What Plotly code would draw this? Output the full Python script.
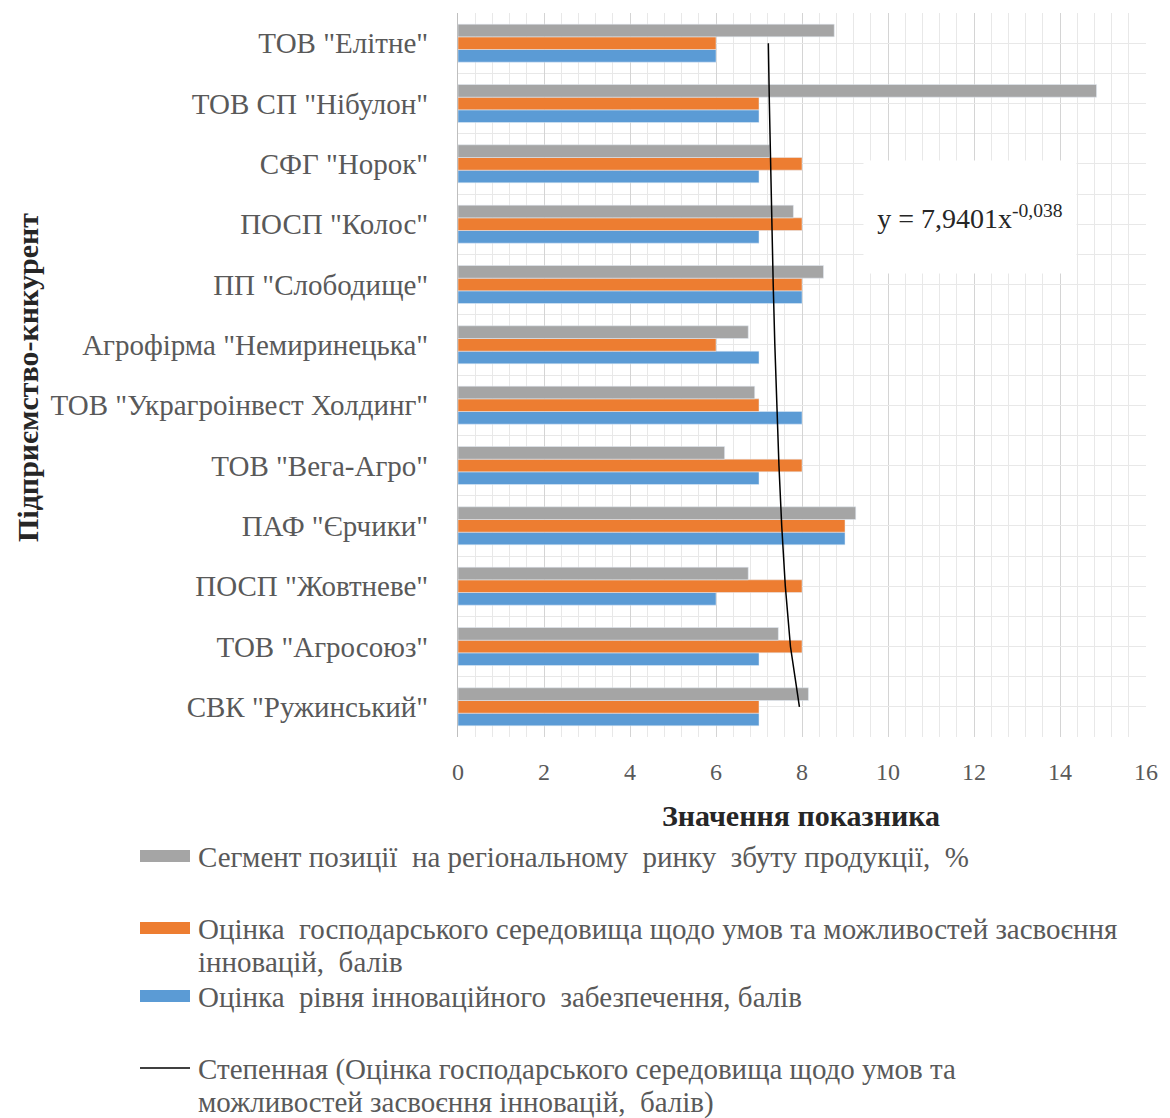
import numpy as np
import plotly.graph_objects as go

# ---- data (bottom -> top, as in the source chart) ----
categories = [
    'СВК "Ружинський"',
    'ТОВ "Агросоюз"',
    'ПОСП "Жовтневе"',
    'ПАФ "Єрчики"',
    'ТОВ "Вега-Агро"',
    'ТОВ "Украгроінвест Холдинг"',
    'Агрофірма "Немиринецька"',
    'ПП "Слободище"',
    'ПОСП "Колос"',
    'СФГ "Норок"',
    'ТОВ СП "Нібулон"',
    'ТОВ "Елітне"',
]
segment_share = [8.15, 7.45, 6.75, 9.25, 6.2, 6.9, 6.75, 8.5, 7.8, 7.25, 14.85, 8.75]
environment_score = [7, 8, 8, 9, 8, 7, 6, 8, 8, 8, 7, 6]
innovation_score = [7, 7, 6, 9, 7, 8, 7, 8, 7, 7, 7, 6]
x_ticks = [0, 2, 4, 6, 8, 10, 12, 14, 16]

name_gray = ["Сегмент позиції  на регіональному  ринку  збуту продукції,  %"]
name_orange = ["Оцінка  господарського середовища щодо умов та можливостей засвоєння",
               "інновацій,  балів"]
name_blue = ["Оцінка  рівня інноваційного  забезпечення, балів"]
name_trend = ["Степенная (Оцінка господарського середовища щодо умов та",
              "можливостей засвоєння інновацій,  балів)"]
equation_text = "y = 7,9401x<sup>-0,038</sup>"
x_title = "Значення показника"
y_title = "Підприємство-кнкурент"

# power trend fitted (as the spreadsheet does) to the orange series
idx = np.arange(1, len(categories) + 1)
b, ln_a = np.polyfit(np.log(idx), np.log(environment_score), 1)
trend = np.exp(ln_a) * idx ** b

ypos = list(range(len(categories)))

C_GRAY = "#A5A5A5"
C_ORANGE = "#ED7D31"
C_BLUE = "#5B9BD5"
TXT = "#595959"
SERIF = "Liberation Serif, Times New Roman, serif"

OFF = 8  # page body margin
W, H = 1170 - OFF, 1118 - OFF
L, R, T, B = 458 - OFF, 1146 - OFF, 13 - OFF, 737 - OFF


def px(xp):
    return (xp - OFF - L) / (R - L)


def py(yp):
    return (B - (yp - OFF)) / (B - T)


fig = go.Figure()
fig.add_trace(go.Bar(y=ypos, x=innovation_score, orientation="h", marker_color=C_BLUE,
                     name=name_blue[0], showlegend=False))
fig.add_trace(go.Bar(y=ypos, x=environment_score, orientation="h", marker_color=C_ORANGE,
                     name=" ".join(name_orange), showlegend=False))
fig.add_trace(go.Bar(y=ypos, x=segment_share, orientation="h", marker_color=C_GRAY,
                     name=name_gray[0], showlegend=False))
fig.add_trace(go.Scatter(y=ypos, x=trend, mode="lines", line=dict(color="black", width=1.5),
                         name=" ".join(name_trend), showlegend=False))

fig.update_layout(
    width=W, height=H,
    margin=dict(l=L, r=W - R, t=T, b=H - B, autoexpand=False),
    paper_bgcolor="white", plot_bgcolor="white",
    barmode="group", bargap=0.37, bargroupgap=0,
    font=dict(family=SERIF, color=TXT),
    showlegend=False,
)
fig.update_xaxes(
    range=[0, 16], tickvals=x_ticks, ticktext=[str(v) for v in x_ticks],
    showgrid=True, gridcolor="#d4d4d4", gridwidth=1, zeroline=False,
    minor=dict(dtick=0.4, tick0=0, showgrid=True, gridcolor="#e8e8e8", gridwidth=1),
    ticks="outside", ticklen=13, tickcolor="rgba(0,0,0,0)",
    tickfont=dict(family=SERIF, size=24, color=TXT),
    showline=False,
)
fig.update_yaxes(
    range=[-0.5, len(categories) - 0.5],
    tickmode="array", tickvals=ypos, ticktext=categories,
    showgrid=True, gridcolor="#e8e8e8", gridwidth=1, zeroline=False,
    minor=dict(tickmode="array", tickvals=[i - 0.5 for i in range(len(categories) + 1)],
               showgrid=True, gridcolor="#e8e8e8", gridwidth=1),
    ticks="outside", ticklen=23, tickcolor="rgba(0,0,0,0)",
    tickfont=dict(family=SERIF, size=29, color=TXT),
    showline=True, linecolor="#bfbfbf", linewidth=1, mirror=False,
)

ann = []
# equation label with white box
ann.append(dict(text=equation_text, x=px(970), y=py(217), xref="paper", yref="paper",
                showarrow=False, font=dict(family=SERIF, size=28, color="#262626"),
                bgcolor="white", width=210, height=110, xanchor="center", yanchor="middle"))
# axis titles
ann.append(dict(text="<b>" + x_title + "</b>", x=px(801), y=py(815), xref="paper", yref="paper",
                showarrow=False, font=dict(family=SERIF, size=30, color="#262626"),
                xanchor="center", yanchor="middle"))
ann.append(dict(text="<b>" + y_title + "</b>", x=px(27), y=py(378), xref="paper", yref="paper",
                showarrow=False, textangle=-90, font=dict(family=SERIF, size=30, color="#262626"),
                xanchor="center", yanchor="middle"))

# manual legend (swatches + text lines)
shapes = []
legend_items = [
    (name_gray, C_GRAY, "bar", [857]),
    (name_orange, C_ORANGE, "bar", [929, 962]),
    (name_blue, C_BLUE, "bar", [997]),
    (name_trend, "black", "line", [1069, 1102]),
]
for lines, col, kind, ys in legend_items:
    yc = ys[0] - 1
    if kind == "bar":
        shapes.append(dict(type="rect", xref="paper", yref="paper",
                           x0=px(140), x1=px(190), y0=py(yc - 6), y1=py(yc + 6),
                           fillcolor=col, line=dict(width=0)))
    else:
        shapes.append(dict(type="line", xref="paper", yref="paper",
                           x0=px(140), x1=px(190), y0=py(yc), y1=py(yc),
                           line=dict(color=col, width=1.5)))
    for text, yl in zip(lines, ys):
        ann.append(dict(text=text, x=px(196), y=py(yl), xref="paper", yref="paper",
                        showarrow=False, align="left", xanchor="left", yanchor="middle",
                        font=dict(family=SERIF, size=29, color=TXT)))

fig.update_layout(annotations=ann, shapes=shapes)
fig.write_html("out.html")
